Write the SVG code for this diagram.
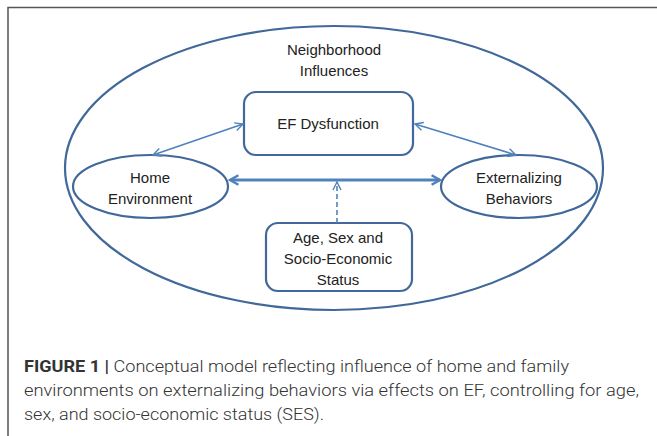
<svg xmlns="http://www.w3.org/2000/svg" width="657" height="436" viewBox="0 0 657 436">
<defs>
<style>
.node{fill:#fff;stroke:#41689a;stroke-width:2.2}
.lbl{font-family:"Liberation Sans",Arial,sans-serif;font-size:15px;fill:#222;text-anchor:middle}
.cap{font-family:Roboto,"Liberation Sans",sans-serif;font-size:16.5px;font-weight:300;fill:#333}
.conn{stroke:#4f81bd;fill:none}
</style>
<marker id="ah" viewBox="0 0 10 10" refX="9" refY="5" markerWidth="10" markerHeight="10" markerUnits="userSpaceOnUse" orient="auto-start-reverse">
<path d="M1,1 L9,5 L1,9" fill="none" stroke="#4f81bd" stroke-width="1.4"/>
</marker>
<marker id="ahb" viewBox="0 0 10 10" refX="8" refY="5" markerWidth="12" markerHeight="12" markerUnits="userSpaceOnUse" orient="auto-start-reverse">
<path d="M1,1 L8,5 L1,9" fill="none" stroke="#4f81bd" stroke-width="2"/>
</marker>
</defs>
<rect width="657" height="436" fill="#fff"/>
<path d="M8,436 L8,7.5 L657,7.5" fill="none" stroke="#555" stroke-width="1.5"/>
<g id="neighborhood">
<ellipse class="node" cx="334" cy="168" rx="269" ry="142" fill="none"/>
<text class="lbl" x="334" y="55">Neighborhood</text>
<text class="lbl" x="334" y="76">Influences</text>
</g>
<g id="ef">
<rect class="node" x="244" y="92" width="169" height="63" rx="12"/>
<text class="lbl" x="328" y="129">EF Dysfunction</text>
</g>
<g id="home">
<ellipse class="node" cx="150.5" cy="186.5" rx="77.5" ry="31.5"/>
<text class="lbl" x="150" y="183">Home</text>
<text class="lbl" x="150" y="204">Environment</text>
</g>
<g id="ext">
<ellipse class="node" cx="519" cy="186.5" rx="78" ry="31.5"/>
<text class="lbl" x="519" y="183">Externalizing</text>
<text class="lbl" x="519" y="204">Behaviors</text>
</g>
<g id="ses">
<rect class="node" x="266" y="223" width="146" height="68" rx="12"/>
<text class="lbl" x="338" y="243">Age, Sex and</text>
<text class="lbl" x="338" y="264">Socio-Economic</text>
<text class="lbl" x="338" y="285">Status</text>
</g>
<g id="connectors">
<line class="conn" x1="243" y1="124" x2="153" y2="155" stroke-width="1.6" marker-start="url(#ah)" marker-end="url(#ah)"/>
<line class="conn" x1="415" y1="124" x2="516" y2="155" stroke-width="1.6" marker-start="url(#ah)" marker-end="url(#ah)"/>
<line class="conn" x1="230" y1="180" x2="440" y2="180" stroke-width="3" marker-start="url(#ahb)" marker-end="url(#ahb)"/>
<line class="conn" x1="337" y1="223" x2="337" y2="182" stroke-width="1.6" stroke-dasharray="5,3" marker-end="url(#ah)"/>
</g>
<g id="caption">
<text class="cap" x="24" y="372" textLength="545" lengthAdjust="spacingAndGlyphs"><tspan font-weight="bold">FIGURE 1 |</tspan> Conceptual model reflecting influence of home and family</text>
<text class="cap" x="24" y="396" textLength="615" lengthAdjust="spacingAndGlyphs">environments on externalizing behaviors via effects on EF, controlling for age,</text>
<text class="cap" x="24" y="420" textLength="300" lengthAdjust="spacingAndGlyphs">sex, and socio-economic status (SES).</text>
</g>
</svg>
